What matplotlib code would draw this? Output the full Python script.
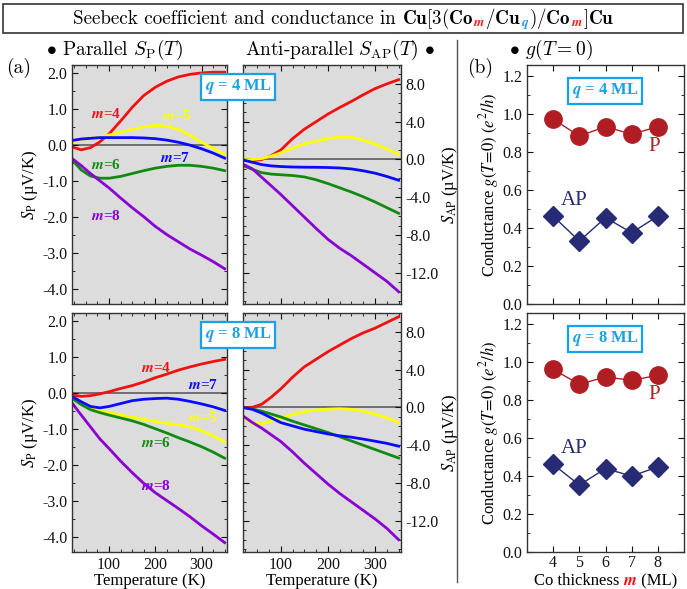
import matplotlib
matplotlib.use('Agg')
import matplotlib.pyplot as plt
from matplotlib.offsetbox import TextArea, HPacker, AnchoredOffsetbox
from matplotlib.patches import Rectangle
from matplotlib.lines import Line2D
from matplotlib.ticker import MultipleLocator, FormatStrFormatter

plt.rcParams['font.family'] = 'Liberation Serif'
plt.rcParams['mathtext.fontset'] = 'stix'
plt.rcParams['axes.unicode_minus'] = False

# ---- data ----
temps = [20, 40, 60, 80, 100, 125, 150, 175, 200, 225, 250, 275, 300, 325, 350]
m_list = [4, 5, 6, 7, 8]
curve_colors = {4: '#f21010', 5: '#ffff00', 6: '#128a12', 7: '#0a0aff', 8: '#8a00d2'}

# parallel Seebeck, q = 4 ML
sp_q4 = {
    4: [-0.06, -0.14, -0.08, 0.08, 0.30, 0.66, 1.04, 1.37, 1.60, 1.77, 1.89, 1.96, 2.00, 2.02, 2.02],
    5: [0.08, 0.13, 0.18, 0.22, 0.27, 0.35, 0.43, 0.50, 0.54, 0.52, 0.43, 0.27, 0.07, -0.10, -0.27],
    6: [-0.42, -0.70, -0.87, -0.93, -0.93, -0.88, -0.80, -0.72, -0.65, -0.60, -0.57, -0.57, -0.60, -0.65, -0.72],
    7: [0.12, 0.16, 0.18, 0.20, 0.20, 0.20, 0.20, 0.19, 0.17, 0.13, 0.07, -0.01, -0.11, -0.23, -0.37],
    8: [-0.38, -0.58, -0.80, -1.00, -1.20, -1.48, -1.75, -2.00, -2.27, -2.50, -2.70, -2.90, -3.07, -3.25, -3.45],
}
# anti-parallel Seebeck, q = 4 ML
sap_q4 = {
    4: [-0.10, -0.15, 0.00, 0.40, 1.00, 2.20, 3.20, 4.00, 4.80, 5.50, 6.15, 6.85, 7.50, 8.00, 8.45],
    5: [-0.05, 0.00, 0.10, 0.35, 0.70, 1.20, 1.65, 1.95, 2.20, 2.38, 2.35, 2.05, 1.65, 1.10, 0.55],
    6: [-0.65, -1.05, -1.40, -1.55, -1.62, -1.70, -1.85, -2.15, -2.55, -3.00, -3.45, -3.95, -4.50, -5.10, -5.70],
    7: [-0.05, -0.30, -0.55, -0.68, -0.75, -0.80, -0.82, -0.83, -0.85, -0.90, -1.00, -1.20, -1.45, -1.80, -2.20],
    8: [-0.50, -1.00, -1.90, -2.80, -3.70, -4.90, -6.10, -7.30, -8.45, -9.40, -10.20, -11.10, -12.00, -12.90, -14.00],
}
# parallel Seebeck, q = 8 ML
sp_q8 = {
    4: [-0.06, -0.10, -0.08, -0.03, 0.03, 0.12, 0.20, 0.30, 0.42, 0.52, 0.63, 0.72, 0.80, 0.87, 0.93],
    5: [-0.10, -0.28, -0.42, -0.50, -0.55, -0.62, -0.68, -0.74, -0.80, -0.85, -0.89, -0.95, -1.05, -1.20, -1.37],
    6: [-0.15, -0.33, -0.47, -0.55, -0.62, -0.70, -0.78, -0.88, -1.00, -1.12, -1.25, -1.37, -1.50, -1.65, -1.82],
    7: [-0.10, -0.25, -0.38, -0.42, -0.38, -0.30, -0.22, -0.18, -0.16, -0.15, -0.18, -0.24, -0.31, -0.39, -0.49],
    8: [-0.28, -0.62, -0.95, -1.28, -1.55, -1.90, -2.22, -2.52, -2.78, -3.00, -3.22, -3.45, -3.70, -3.93, -4.17],
}
# anti-parallel Seebeck, q = 8 ML
sap_q8 = {
    4: [0.00, 0.02, 0.35, 1.10, 1.96, 3.20, 4.30, 5.10, 5.90, 6.60, 7.30, 7.90, 8.40, 9.00, 9.60],
    5: [-1.00, -1.70, -1.72, -1.42, -1.10, -0.75, -0.45, -0.28, -0.18, -0.14, -0.20, -0.40, -0.70, -1.10, -1.60],
    6: [0.00, -0.15, -0.40, -0.70, -1.00, -1.45, -1.85, -2.25, -2.65, -3.10, -3.55, -4.00, -4.45, -4.90, -5.35],
    7: [0.00, -0.20, -0.60, -1.10, -1.60, -1.95, -2.30, -2.55, -2.80, -3.00, -3.15, -3.35, -3.57, -3.80, -4.10],
    8: [-0.90, -1.60, -2.20, -2.90, -3.60, -4.70, -5.90, -7.00, -8.10, -9.10, -10.00, -10.90, -11.80, -12.80, -14.00],
}
# conductance at T = 0
g_p_q4 = [0.975, 0.885, 0.935, 0.895, 0.935]
g_ap_q4 = [0.463, 0.332, 0.455, 0.376, 0.463]
g_p_q8 = [0.963, 0.884, 0.923, 0.905, 0.932]
g_ap_q8 = [0.462, 0.353, 0.440, 0.400, 0.449]

# label positions (T, S) for the m= tags
lab_q4 = {4: (93, 0.86), 5: (246, 0.80), 6: (93, -0.56), 7: (243, -0.37), 8: (93, -1.97)}
lab_q8 = {4: (201, 0.70), 5: (304, -0.70), 6: (201, -1.41), 7: (304, 0.23), 8: (201, -2.60)}

cyan = '#16a3e6'
p_col = '#b01e23'
ap_col = '#272b75'
gray_bg = '#dcdcdc'

W, H = 687, 589
fig = plt.figure(figsize=(W / 100, H / 100), dpi=100)


def fbox(x0, y0, x1, y1):
    # pixel box (top-left origin) -> figure rect
    return [x0 / W, 1 - y1 / H, (x1 - x0) / W, (y1 - y0) / H]


def style_ax(ax):
    ax.tick_params(which='both', direction='in', top=True, right=True, labelsize=11.5, colors='#111')
    ax.tick_params(which='major', length=4, width=0.8)
    ax.tick_params(which='minor', length=2, width=0.6)
    for s in ax.spines.values():
        s.set_linewidth(1.0)
        s.set_color('#333')


ax_sp4 = fig.add_axes(fbox(72, 65, 227, 304))
ax_ap4 = fig.add_axes(fbox(243, 65, 401, 304))
ax_sp8 = fig.add_axes(fbox(72, 313, 227, 552))
ax_ap8 = fig.add_axes(fbox(243, 313, 401, 552))
ax_g4 = fig.add_axes(fbox(527, 65, 684, 304))
ax_g8 = fig.add_axes(fbox(527, 313, 684, 552))

for ax, data in [(ax_sp4, sp_q4), (ax_ap4, sap_q4), (ax_sp8, sp_q8), (ax_ap8, sap_q8)]:
    ax.set_facecolor(gray_bg)
    ax.axhline(0, color='#707070', lw=1.4, zorder=1)
    for m in m_list:
        ax.plot(temps, data[m], color=curve_colors[m], lw=2.0, zorder=2)
    ax.set_xlim(20, 355)
    ax.xaxis.set_major_locator(MultipleLocator(100))
    ax.xaxis.set_minor_locator(MultipleLocator(25))
    style_ax(ax)

for ax in (ax_sp4, ax_sp8):
    ax.set_ylim(-4.43, 2.22)
    ax.yaxis.set_major_locator(MultipleLocator(1.0))
    ax.yaxis.set_minor_locator(MultipleLocator(0.5))
    ax.yaxis.set_major_formatter(FormatStrFormatter('%.1f'))
    ax.set_ylabel(r'$S_{\rm P}$ (µV/K)', fontsize=12, labelpad=1)

for ax in (ax_ap4, ax_ap8):
    ax.set_ylim(-15.3, 10.0)
    ax.yaxis.set_major_locator(MultipleLocator(4.0))
    ax.yaxis.set_minor_locator(MultipleLocator(1.0))
    ax.yaxis.set_major_formatter(FormatStrFormatter('%.1f'))
    ax.tick_params(labelleft=False, labelright=True)
    ax.yaxis.set_label_position('right')
    ax.set_ylabel(r'$S_{\rm AP}$ (µV/K)', fontsize=12, labelpad=1)

for ax in (ax_sp4, ax_ap4):
    ax.tick_params(labelbottom=False)
for ax in (ax_sp8, ax_ap8):
    ax.set_xlabel('Temperature (K)', fontsize=12, labelpad=0)

for ax, labs in [(ax_sp4, lab_q4), (ax_sp8, lab_q8)]:
    for m in m_list:
        t, s = labs[m]
        ax.text(t, s, r'$\mathbfit{m}$=%d' % m, color=curve_colors[m], fontsize=11,
                fontweight='bold', ha='center', va='center', zorder=3)

# conductance panels
for ax, gp, gap in [(ax_g4, g_p_q4, g_ap_q4), (ax_g8, g_p_q8, g_ap_q8)]:
    ax.plot(m_list, gp, '-o', color=p_col, lw=1.0, ms=12.5)
    ax.plot(m_list, gap, '-D', color=ap_col, lw=1.0, ms=10)
    ax.set_xlim(3, 9)
    ax.set_ylim(0, 1.26)
    ax.set_xticks(m_list)
    ax.yaxis.set_major_locator(MultipleLocator(0.2))
    ax.yaxis.set_minor_locator(MultipleLocator(0.1))
    ax.yaxis.set_major_formatter(FormatStrFormatter('%.1f'))
    style_ax(ax)
    ax.tick_params(axis='x', pad=2)
    ax.set_ylabel(r'Conductance $g(T\!=\!0)$ $(e^2/h)$', fontsize=12, labelpad=1)
    ax.text(7.87, 0.83, 'P', color=p_col, fontsize=15, ha='center', va='center')
    ax.text(4.82, 0.545, 'AP', color=ap_col, fontsize=15, ha='center', va='center')
ax_g4.tick_params(labelbottom=False)

xl = HPacker(children=[TextArea('Co thickness ', textprops=dict(fontsize=12)),
                       TextArea(r'$\mathbfit{m}$', textprops=dict(fontsize=12, color='#ee1111')),
                       TextArea(' (ML)', textprops=dict(fontsize=12))],
             align='baseline', pad=0, sep=0)
ax_g8.add_artist(AnchoredOffsetbox(loc='upper center', child=xl, frameon=False, pad=0, borderpad=0,
                                   bbox_to_anchor=(0.5, -0.088), bbox_transform=ax_g8.transAxes))

# q boxes
for (px, py) in [(238, 87), (238, 335), (605, 91), (605, 339)]:
    q = 4 if py < 200 else 8
    fig.text(px / W, 1 - py / H, r'$\mathbfit{q}$ = %d ML' % q, color=cyan, fontsize=12,
             fontweight='bold', ha='center', va='center', zorder=10,
             bbox=dict(boxstyle='square,pad=0.22', fc='white', ec=cyan, lw=1.6))

# headers, panel letters
cm = dict(family='cmr10', math_fontfamily='cm', fontsize=14)
fig.text(46 / W, 1 - 50 / H, r'$\bullet$ Parallel $S_{\rm P}(T)$', ha='left', va='center', **cm)
fig.text(245 / W, 1 - 50 / H, r'Anti-parallel $S_{\rm AP}(T)$ $\bullet$', ha='left', va='center', **cm)
fig.text(509 / W, 1 - 50 / H, r'$\bullet$ $g(T=0)$', ha='left', va='center', **cm)
fig.text(19 / W, 1 - 68 / H, '(a)', ha='center', va='center', **cm)
fig.text(480 / W, 1 - 68 / H, '(b)', ha='center', va='center', **cm)

# title
fig.add_artist(Rectangle((3 / W, 1 - 33 / H), 680 / W, 29 / H, transform=fig.transFigure,
                         fill=False, ec='#333', lw=1.2))
tp = dict(family='cmr10', math_fontfamily='cm', fontsize=13.7)
sub = dict(math_fontfamily='stix', fontsize=13.7)
pieces = [TextArea('Seebeck coefficient and conductance in ', textprops=tp),
          TextArea(r'$\mathbf{Cu[3(Co}$', textprops=tp),
          TextArea(r'$_{\mathbfit{m}}$', textprops=dict(color='#ff1a1a', **sub)),
          TextArea(r'$\mathbf{/Cu}$', textprops=tp),
          TextArea(r'$_{\mathbfit{q}}$', textprops=dict(color=cyan, **sub)),
          TextArea(r'$\mathbf{)/Co}$', textprops=tp),
          TextArea(r'$_{\mathbfit{m}}$', textprops=dict(color='#ff1a1a', **sub)),
          TextArea(r'$\mathbf{]Cu}$', textprops=tp)]
title = HPacker(children=pieces, align='baseline', pad=0, sep=0)
fig.add_artist(AnchoredOffsetbox(loc='center', child=title, frameon=False, pad=0, borderpad=0,
                                 bbox_to_anchor=(0.5, 1 - 19 / H), bbox_transform=fig.transFigure))

# separator
fig.add_artist(Line2D([457 / W, 457 / W], [1 - 40 / H, 1 - 582 / H], transform=fig.transFigure,
                      color='#555', lw=1.0))

fig.savefig('out.png', dpi=100)
